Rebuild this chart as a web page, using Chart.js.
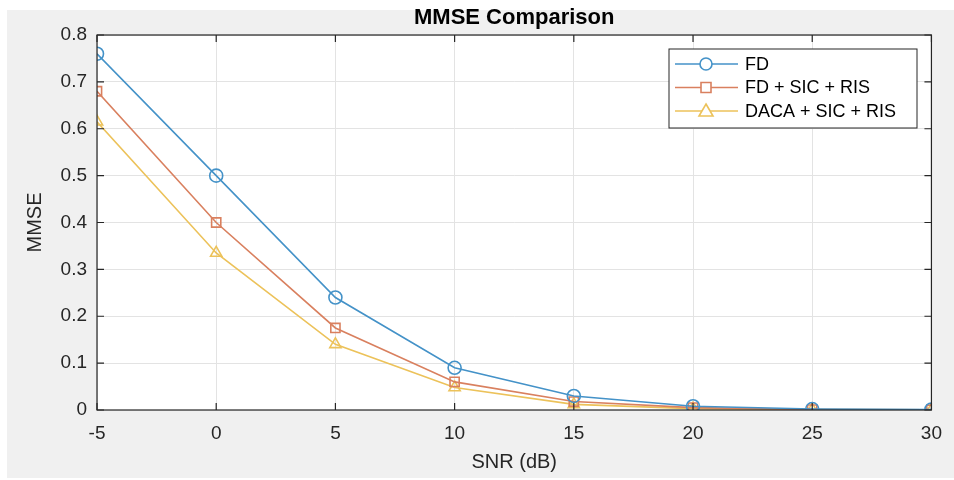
<!DOCTYPE html>
<html>
<head>
<meta charset="utf-8">
<script src="https://cdn.jsdelivr.net/npm/chart.js@4.4.1/dist/chart.umd.min.js"></script>
<style>
    html, body { margin: 0; padding: 0; background: #fff; }
    #wrap { width: 954px; height: 480px; position: relative; }
</style>
</head>
<body>
<div id="wrap"><canvas id="mmseChart" width="954" height="480"></canvas></div>
<script>
// values
const snr = [-5, 0, 5, 10, 15, 20, 25, 30];
const fd = [0.76, 0.50, 0.24, 0.09, 0.03, 0.008, 0.002, 0.001];
const fdSicRis = [0.68, 0.40, 0.175, 0.06, 0.018, 0.005, 0.001, 0.0005];
const dacaSicRis = [0.615, 0.335, 0.14, 0.048, 0.012, 0.003, 0.001, 0.0003];
const seriesNames = ['FD', 'FD + SIC + RIS', 'DACA + SIC + RIS'];
const yTicks = [0, 0.1, 0.2, 0.3, 0.4, 0.5, 0.6, 0.7, 0.8];

const colors = ['#4492c8', '#d9805f', '#ecc25a'];
const markers = ['circle', 'rect', 'triangle'];
const FONT = '"Liberation Sans", Arial, sans-serif';

function toPoints(arr) {
    return snr.map((x, i) => ({ x: x, y: arr[i] }));
}

const datasets = [fd, fdSicRis, dacaSicRis].map((arr, i) => ({
    label: seriesNames[i],
    data: toPoints(arr),
    borderColor: colors[i],
    backgroundColor: 'rgba(0,0,0,0)',
    borderWidth: 1.6,
    pointStyle: markers[i],
    pointRadius: 6.5,
    pointBorderWidth: 1.6,
    pointBorderColor: colors[i],
    pointBackgroundColor: 'rgba(0,0,0,0)',
    tension: 0
}));

// grey figure background + white axes box
const backdrop = {
    id: 'backdrop',
    beforeDraw(chart) {
        const { ctx, chartArea: a } = chart;
        ctx.save();
        ctx.fillStyle = '#f0f0f0';
        ctx.fillRect(7, 10, chart.width - 7, chart.height - 12);
        ctx.fillStyle = '#ffffff';
        ctx.fillRect(a.left, a.top, a.right - a.left, a.bottom - a.top);
        ctx.restore();
    }
};

// box, inward ticks, title and legend drawn like the matlab figure
const frame = {
    id: 'frame',
    afterDatasetsDraw(chart) {
        const { ctx, chartArea: a, scales } = chart;
        ctx.save();
        ctx.strokeStyle = '#262626';
        ctx.lineWidth = 1.2;
        ctx.strokeRect(a.left, a.top, a.right - a.left, a.bottom - a.top);

        ctx.beginPath();
        snr.forEach(v => {
            const x = scales.x.getPixelForValue(v);
            ctx.moveTo(x, a.bottom); ctx.lineTo(x, a.bottom - 7);
            ctx.moveTo(x, a.top); ctx.lineTo(x, a.top + 7);
        });
        yTicks.forEach(v => {
            const y = scales.y.getPixelForValue(v);
            ctx.moveTo(a.left, y); ctx.lineTo(a.left + 7, y);
            ctx.moveTo(a.right, y); ctx.lineTo(a.right - 7, y);
        });
        ctx.stroke();

        // title
        ctx.fillStyle = '#000';
        ctx.font = 'bold 22px ' + FONT;
        ctx.textAlign = 'center';
        ctx.textBaseline = 'middle';
        ctx.fillText('MMSE Comparison', (a.left + a.right) / 2, 18);

        // legend
        const lx = 669, ly = 49, lw = 248, lh = 79;
        ctx.fillStyle = '#fff';
        ctx.fillRect(lx, ly, lw, lh);
        ctx.strokeStyle = '#262626';
        ctx.lineWidth = 1;
        ctx.strokeRect(lx, ly, lw, lh);
        ctx.font = '18px ' + FONT;
        ctx.textAlign = 'left';
        seriesNames.forEach((name, i) => {
            const y = 64 + i * 23.5;
            ctx.strokeStyle = colors[i];
            ctx.lineWidth = 1.6;
            ctx.beginPath();
            ctx.moveTo(675, y); ctx.lineTo(738, y);
            ctx.stroke();
            const cx = 706;
            ctx.beginPath();
            if (markers[i] === 'circle') {
                ctx.arc(cx, y, 6, 0, Math.PI * 2);
            } else if (markers[i] === 'rect') {
                ctx.rect(cx - 5, y - 5, 10, 10);
            } else {
                ctx.moveTo(cx, y - 7); ctx.lineTo(cx + 7, y + 5); ctx.lineTo(cx - 7, y + 5); ctx.closePath();
            }
            ctx.fillStyle = '#fff';
            ctx.fill();
            ctx.stroke();
            ctx.fillStyle = '#000';
            ctx.fillText(name, 745, y + 1);
        });
        ctx.restore();
    }
};

new Chart(document.getElementById('mmseChart'), {
    type: 'line',
    data: { datasets: datasets },
    plugins: [backdrop, frame],
    options: {
        responsive: false,
        animation: false,
        layout: { padding: { top: 35, right: 20, left: 0, bottom: 0 } },
        plugins: {
            legend: { display: false },
            title: { display: false },
            tooltip: { enabled: false }
        },
        scales: {
            x: {
                type: 'linear',
                min: -5,
                max: 30,
                afterBuildTicks(scale) { scale.ticks = snr.map(v => ({ value: v })); },
                afterFit(scale) { scale.height = 70; },
                grid: { color: '#e3e3e3', drawTicks: false },
                border: { display: false },
                ticks: { color: '#262626', padding: 12, font: { family: FONT, size: 19 } },
                title: { display: true, text: 'SNR (dB)', color: '#262626', padding: { top: 0, bottom: 6 }, font: { family: FONT, size: 20 } }
            },
            y: {
                min: 0,
                max: 0.8,
                afterBuildTicks(scale) { scale.ticks = yTicks.map(v => ({ value: v })); },
                afterFit(scale) { scale.width = 97; },
                grid: { color: '#e3e3e3', drawTicks: false },
                border: { display: false },
                ticks: { color: '#262626', padding: 10, font: { family: FONT, size: 19 }, callback: v => String(Math.round(v * 10) / 10) },
                title: { display: true, text: 'MMSE', color: '#262626', padding: { top: 23, bottom: 0 }, font: { family: FONT, size: 20 } }
            }
        }
    }
});
</script>
</body>
</html>
